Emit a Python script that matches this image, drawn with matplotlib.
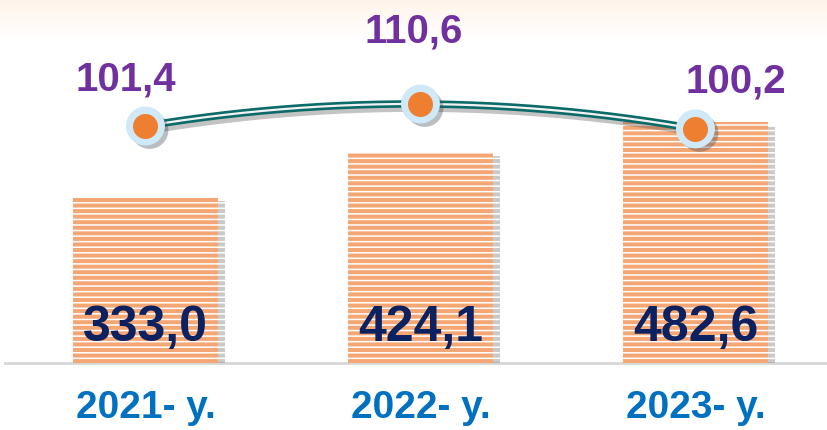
import numpy as np
import matplotlib
matplotlib.use("Agg")
import matplotlib.pyplot as plt
import matplotlib.patheffects as pe

# Data
years = ["2021- y.", "2022- y.", "2023- y."]
volume = [333.0, 424.1, 482.6]
growth = [101.4, 110.6, 100.2]
volume_labels = ["333,0", "424,1", "482,6"]
growth_labels = ["101,4", "110,6", "100,2"]

plt.rcParams["hatch.linewidth"] = 1.1
font = ["Liberation Sans", "DejaVu Sans"]

fig = plt.figure(figsize=(8.28, 4.31), dpi=100)

# soft peach gradient at the top of the background
bg = fig.add_axes([0, 0, 1, 1], zorder=-5)
grad = np.linspace(0, 1, 431)[:, None]
top = np.array([1.0, 0.955, 0.915])
fade = np.clip(grad / 0.09, 0, 1)
img = top + (1 - top) * fade[..., None]
bg.imshow(np.repeat(img, 2, axis=1), aspect="auto", extent=[0, 1, 0, 1],
          origin="upper")
bg.axis("off")

# main axes: bottom at the baseline (y = 364 px)
ax = fig.add_axes([0, 1 - 364 / 431, 1, 364 / 431])
ax.set_xlim(-0.529, 2.482)
ax.set_ylim(0, 730)
ax.axis("off")

x = np.arange(len(years))
bars = ax.bar(x, volume, width=0.527, color="#f4a675", edgecolor="white",
              linewidth=0, hatch="---", zorder=2)
for b in bars:
    b.set_path_effects([pe.SimplePatchShadow(offset=(5, -3), shadow_rgbFace="#7a7a7a",
                                             alpha=0.4), pe.Normal()])

ax.axhline(0, xmin=0.006, xmax=1, color="#d6d6d6", lw=2, zorder=1, clip_on=False)

for xi, lab in zip(x, volume_labels):
    ax.annotate(lab, (xi, 0), xytext=(0, 36), textcoords="offset pixels",
                ha="center", va="center", fontsize=36, fontweight="bold",
                color="#0b2160", family=font, zorder=4)

for xi, lab in zip(x, years):
    ax.annotate(lab, (xi, 0), xytext=(0, -44), textcoords="offset pixels",
                ha="center", va="center", fontsize=28, fontweight="bold",
                color="#0070c0", family=font, annotation_clip=False)

# growth line on its own scale
ax2 = ax.twinx()
ax2.set_ylim(2.3, 154.5)
ax2.axis("off")

coef = np.polyfit(x, growth, 2)
xs = np.linspace(x[0], x[-1], 200)
ys = np.polyval(coef, xs)
ax2.plot(xs, ys, color="#0b6b68", lw=5.4, solid_capstyle="butt", zorder=5,
         path_effects=[pe.SimpleLineShadow(offset=(3, -3), shadow_color="#555555",
                                           alpha=0.35), pe.Normal()])
ax2.plot(xs, ys, color="#f2f2f2", lw=1.6, solid_capstyle="butt", zorder=6)

ax2.plot(x, growth, "o", ms=27, color="#cfe9f9", mec="#cfe9f9", zorder=7,
         path_effects=[pe.SimplePatchShadow(offset=(3, -3), alpha=0.35), pe.Normal()])
ax2.plot(x, growth, "o", ms=17, color="#ee7f30", mec="#ee7f30", zorder=8)

offsets = [(-20, 47), (-7, 73), (40, 48)]
for xi, yi, lab, off in zip(x, growth, growth_labels, offsets):
    ax2.annotate(lab, (xi, yi), xytext=off, textcoords="offset pixels",
                 ha="center", va="center", fontsize=29, fontweight="bold",
                 color="#7030a0", family=font, annotation_clip=False)

fig.savefig("out.png", dpi=100)
